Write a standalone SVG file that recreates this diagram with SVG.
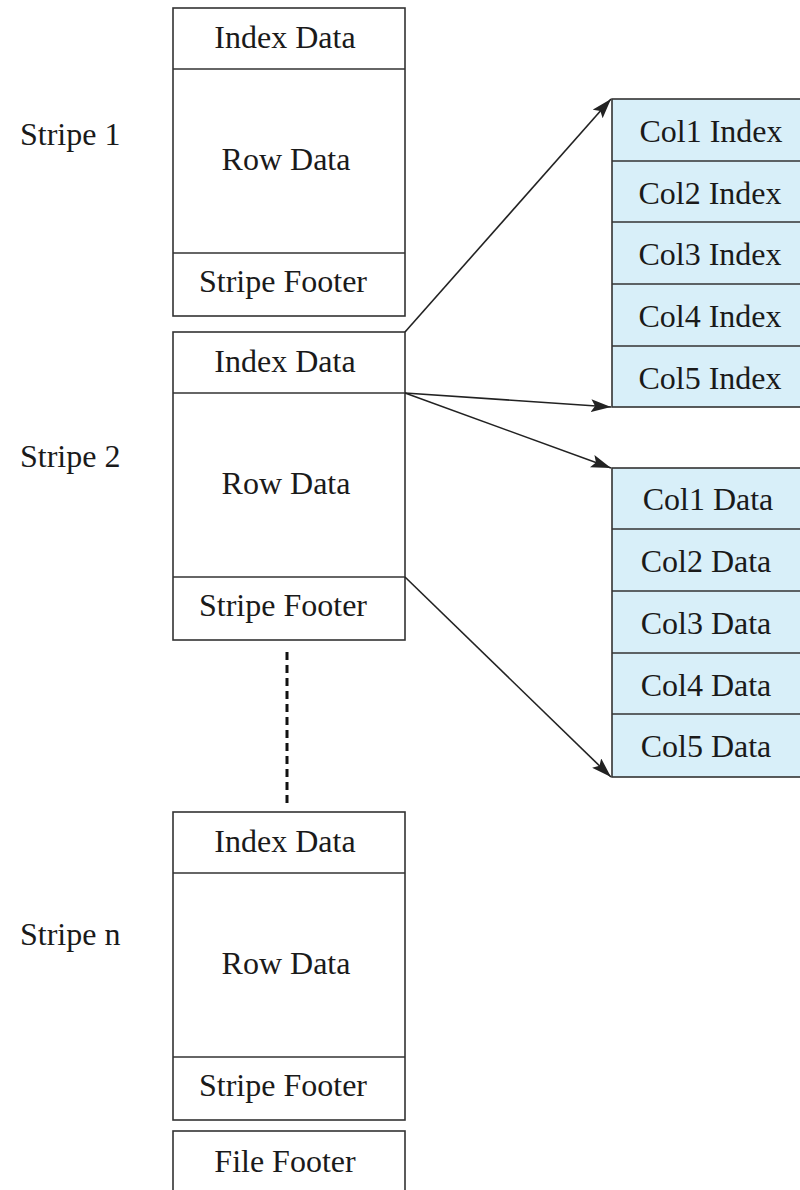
<svg xmlns="http://www.w3.org/2000/svg" width="800" height="1190" viewBox="0 0 800 1190">
<defs>
<style>
.box{fill:#fff;stroke:#333;stroke-width:1.6}
.blue{fill:#d8eff9;stroke:#333;stroke-width:1.6}
.div{stroke:#333;stroke-width:1.6}
.t{font-family:"Liberation Serif","Times New Roman",serif;font-size:32px;fill:#1a1a1a;text-anchor:middle}
.lbl{font-family:"Liberation Serif","Times New Roman",serif;font-size:32px;fill:#1a1a1a}
.conn{stroke:#222;stroke-width:1.6;fill:none}
</style>
<marker id="arr" markerUnits="userSpaceOnUse" markerWidth="22" markerHeight="14" refX="20" refY="6.5" orient="auto">
<path d="M0,0 L20,6.5 L0,13 L4,6.5 Z" fill="#222"/>
</marker>
</defs>
<g id="labels">
<text class="lbl" x="20" y="145">Stripe 1</text>
<text class="lbl" x="20" y="467">Stripe 2</text>
<text class="lbl" x="20" y="945">Stripe n</text>
</g>
<g id="stripe1">
<rect class="box" x="173" y="8" width="232" height="308"/>
<line class="div" x1="173" y1="69" x2="405" y2="69"/>
<line class="div" x1="173" y1="253" x2="405" y2="253"/>
<text class="t" x="285" y="48">Index Data</text>
<text class="t" x="286" y="170">Row Data</text>
<text class="t" x="283" y="292">Stripe Footer</text>
</g>
<g id="stripe2">
<rect class="box" x="173" y="332" width="232" height="308"/>
<line class="div" x1="173" y1="393" x2="405" y2="393"/>
<line class="div" x1="173" y1="577" x2="405" y2="577"/>
<text class="t" x="285" y="372">Index Data</text>
<text class="t" x="286" y="494">Row Data</text>
<text class="t" x="283" y="616">Stripe Footer</text>
</g>
<g id="stripen">
<rect class="box" x="173" y="812" width="232" height="308"/>
<line class="div" x1="173" y1="873" x2="405" y2="873"/>
<line class="div" x1="173" y1="1057" x2="405" y2="1057"/>
<text class="t" x="285" y="852">Index Data</text>
<text class="t" x="286" y="974">Row Data</text>
<text class="t" x="283" y="1096">Stripe Footer</text>
</g>
<g id="filefooter">
<rect class="box" x="173" y="1131" width="232" height="70"/>
<text class="t" x="285" y="1172">File Footer</text>
</g>
<g id="colindex">
<rect class="blue" x="612" y="99" width="200" height="308"/>
<line class="div" x1="612" y1="161" x2="812" y2="161"/>
<line class="div" x1="612" y1="222" x2="812" y2="222"/>
<line class="div" x1="612" y1="284" x2="812" y2="284"/>
<line class="div" x1="612" y1="346" x2="812" y2="346"/>
<text class="t" x="711" y="142">Col1 Index</text>
<text class="t" x="710" y="204">Col2 Index</text>
<text class="t" x="710" y="265">Col3 Index</text>
<text class="t" x="710" y="327">Col4 Index</text>
<text class="t" x="710" y="389">Col5 Index</text>
</g>
<g id="coldata">
<rect class="blue" x="612" y="468" width="200" height="309"/>
<line class="div" x1="612" y1="529" x2="812" y2="529"/>
<line class="div" x1="612" y1="591" x2="812" y2="591"/>
<line class="div" x1="612" y1="653" x2="812" y2="653"/>
<line class="div" x1="612" y1="714" x2="812" y2="714"/>
<text class="t" x="708" y="510">Col1 Data</text>
<text class="t" x="706" y="572">Col2 Data</text>
<text class="t" x="706" y="634">Col3 Data</text>
<text class="t" x="706" y="696">Col4 Data</text>
<text class="t" x="706" y="757">Col5 Data</text>
</g>
<g id="connectors">
<line class="conn" x1="405" y1="332" x2="611" y2="99" marker-end="url(#arr)"/>
<line class="conn" x1="405" y1="393" x2="611" y2="407" marker-end="url(#arr)"/>
<line class="conn" x1="405" y1="393" x2="611" y2="468" marker-end="url(#arr)"/>
<line class="conn" x1="405" y1="577" x2="611" y2="777" marker-end="url(#arr)"/>
<line x1="287" y1="652" x2="287" y2="806" stroke="#111" stroke-width="3" stroke-dasharray="8,5"/>
</g>
</svg>
